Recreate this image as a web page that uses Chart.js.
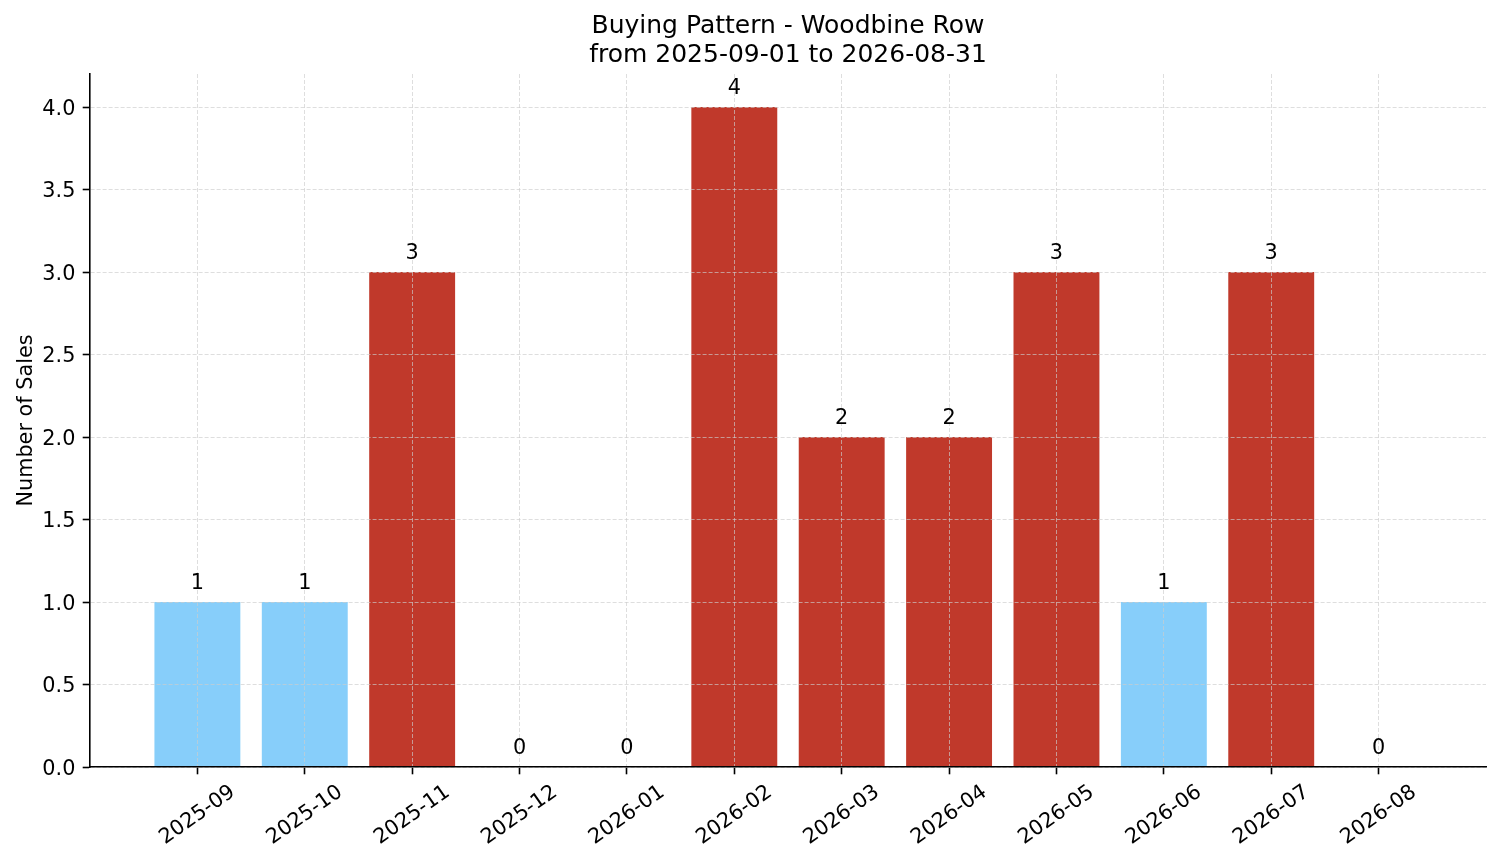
<!DOCTYPE html>
<html>
<head>
<meta charset="utf-8">
<script src="https://cdn.jsdelivr.net/npm/chart.js@4.4.0/dist/chart.umd.min.js"></script>
<style>html,body{margin:0;padding:0;background:#fff;overflow:hidden}canvas{display:block}</style>
</head>
<body>
<canvas id="c" width="1501" height="863"></canvas>
<script>
const categories = ['2025-09','2025-10','2025-11','2025-12','2026-01','2026-02','2026-03','2026-04','2026-05','2026-06','2026-07','2026-08'];
const sales = [1, 1, 3, 0, 0, 4, 2, 2, 3, 1, 3, 0];
const yTickValues = [0, 0.5, 1, 1.5, 2, 2.5, 3, 3.5, 4];
const titleLines = ['Buying Pattern - Woodbine Row', 'from 2025-09-01 to 2026-08-31'];
const yAxisTitle = 'Number of Sales';

const LOW = '#87CEFA', HIGH = '#C0392B';
const mean = sales.reduce((a, b) => a + b, 0) / sales.length;
const FONT = '"DejaVu Sans", sans-serif';
const FS = 20.8;
const GRID = 'rgba(205,205,205,0.65)';
const TICK_LEN = 7.3, TICK_PAD = 7.3;

const textPlugin = {
  id: 'mplText',
  afterDraw(chart) {
    const ctx = chart.ctx, xs = chart.scales.x, ys = chart.scales.y, area = chart.chartArea;
    ctx.save();
    ctx.fillStyle = '#000';
    ctx.textAlign = 'center';
    ctx.textBaseline = 'alphabetic';
    const cx = (area.left + area.right) / 2;
    ctx.font = '25px ' + FONT;
    ctx.fillText(titleLines[0], cx, area.top - 41);
    ctx.fillText(titleLines[1], cx, area.top - 12);

    ctx.font = FS + 'px ' + FONT;
    ctx.save();
    ctx.translate(32, (area.top + area.bottom) / 2);
    ctx.rotate(-Math.PI / 2);
    ctx.fillText(yAxisTitle, 0, 0);
    ctx.restore();

    // value labels above bars
    sales.forEach((v, i) => {
      ctx.fillText(String(v), xs.getPixelForValue(i), ys.getPixelForValue(v + 0.05) - 0.236 * FS);
    });

    // y tick labels
    ctx.textAlign = 'right';
    yTickValues.forEach(v => {
      ctx.fillText(v.toFixed(1), area.left - TICK_LEN - TICK_PAD, ys.getPixelForValue(v) + 0.364 * FS);
    });

    // x tick labels, rotated 35deg, bbox centred on tick
    ctx.textAlign = 'center';
    const th = 35 * Math.PI / 180;
    const top = area.bottom + TICK_LEN + TICK_PAD;
    categories.forEach((c, i) => {
      const w = ctx.measureText(c).width, h = FS;
      const H = w * Math.sin(th) + h * Math.cos(th);
      ctx.save();
      ctx.translate(xs.getPixelForValue(i), top + H / 2);
      ctx.rotate(-th);
      ctx.fillText(c, 0, 0.265 * FS);
      ctx.restore();
    });
    ctx.restore();
  }
};

const gridOpts = { color: GRID, lineWidth: 1, z: 1, offset: false, drawTicks: true, tickLength: TICK_LEN, tickColor: '#000', tickWidth: 1.6 };
const borderOpts = { display: true, color: '#000', width: 1.6, dash: [4, 2], z: 2 };

new Chart(document.getElementById('c'), {
  type: 'bar',
  data: {
    datasets: [{
      data: sales.map((v, i) => ({ x: i, y: v })),
      backgroundColor: sales.map(v => v > mean ? HIGH : LOW),
      borderWidth: 0,
      barPercentage: 0.8,
      categoryPercentage: 1.0
    }]
  },
  options: {
    responsive: false,
    devicePixelRatio: 1,
    animation: false,
    layout: { padding: { top: 74, right: 15, left: 0, bottom: 0 } },
    plugins: { legend: { display: false }, title: { display: false }, tooltip: { enabled: false } },
    scales: {
      x: {
        type: 'linear', min: -1, max: 12, offset: false,
        afterBuildTicks: s => { s.ticks = categories.map((_, i) => ({ value: i })); },
        afterFit: s => { s.height = 96; },
        ticks: { display: false },
        grid: gridOpts,
        border: borderOpts
      },
      y: {
        type: 'linear', min: 0, max: 4.2,
        afterBuildTicks: s => { s.ticks = yTickValues.map(v => ({ value: v })); },
        afterFit: s => { s.width = 90; },
        ticks: { display: false },
        grid: gridOpts,
        border: borderOpts
      }
    }
  },
  plugins: [textPlugin]
});
</script>
</body>
</html>
